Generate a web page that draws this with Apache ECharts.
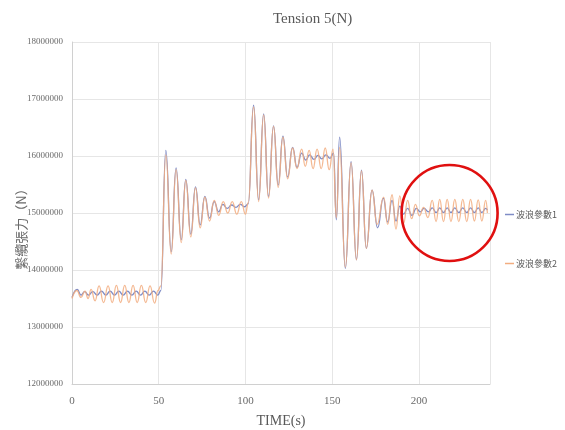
<!DOCTYPE html>
<html>
<head>
<meta charset="utf-8">
<script src="https://cdn.jsdelivr.net/npm/echarts@6/dist/echarts.min.js"></script>
<style>
  html, body { margin: 0; padding: 0; background: #ffffff; }
  #chart { width: 565px; height: 430px; }
</style>
</head>
<body>
<div id="chart"></div>
<script>
// Mooring line tension (unit: 10^6 N) versus time (s), two wave-parameter cases.
const seriesNames = ['波浪參數1', '波浪參數2'];

// Case 1: turning points of the tension record
const timeA = [
  0, 3, 5.2, 7.3, 9.5, 12, 14.5, 17, 19.5, 22, 24.5, 27, 29.5, 32, 34.5, 37, 39.5, 42, 44.5, 47, 49.5, 51.2,
  54.1, 57.2, 60, 63, 65.6, 68.5, 71.2, 73.9, 76.6, 79.3, 82, 84.5, 87, 89.5, 92, 94.5, 97, 99.5, 101.6,
  104.7, 107.6, 110.5, 113.3, 116.2, 118.9, 121.6, 124.3, 127.2, 129.7, 132.4, 134.8, 137, 139.5, 141.8, 144, 146.4, 148.8, 150.8,
  152.4, 154.3, 157.6, 160.9, 164, 166.9, 169.7, 173, 176.2, 179.5, 182, 184.5, 186.8, 189, 191.2, 193.5, 196,
  198.5, 200.8, 203, 205.5, 207.7, 210, 212, 214.2, 216.3, 218.5, 220.7, 223, 225.3, 227.6, 229.8, 232, 234.2, 236.3, 238.5, 239.5
];
const tensionA = [
  13.52, 13.66, 13.56, 13.62, 13.56, 13.62, 13.56, 13.63, 13.56, 13.63, 13.56, 13.63, 13.56, 13.63, 13.56, 13.63, 13.56, 13.63, 13.56, 13.63, 13.56, 13.64,
  16.10, 14.32, 15.79, 14.53, 15.59, 14.63, 15.46, 14.79, 15.29, 14.91, 15.20, 15.02, 15.15, 15.08, 15.14, 15.10, 15.15, 15.11, 15.16,
  16.89, 15.23, 16.74, 15.29, 16.53, 15.49, 16.35, 15.63, 16.15, 15.80, 16.05, 15.93, 16.02, 15.94, 16.01, 15.95, 16.02, 15.96, 16.05,
  14.88, 16.33, 14.03, 15.90, 14.18, 15.75, 14.38, 15.40, 14.74, 15.26, 14.84, 15.22, 14.86, 15.12, 14.98, 15.08, 14.96,
  15.08, 15.02, 15.08, 15.02, 15.09, 15.01, 15.09, 15.01, 15.09, 15.01, 15.09, 15.01, 15.09, 15.01, 15.09, 15.01, 15.09, 15.01, 15.08, 15.05
];

// Case 2: turning points of the tension record
const timeB = [
  0, 2.8, 5.2, 7.5, 9.3, 11, 13.3, 15.6, 18.2, 20.8, 23.2, 25.6, 28, 30.4, 32.8, 35.2, 37.6, 40, 42.5, 45, 47.6, 49.6, 51.2,
  54.1, 57.2, 60, 63, 65.6, 68.5, 71.2, 73.9, 76.6, 79.3, 82, 84.6, 87.2, 89.8, 92.4, 95, 97.6, 100, 101.6,
  104.7, 107.6, 110.5, 113.3, 116.2, 118.9, 121.6, 124.3, 127.2, 129.7, 132.4, 134.5, 136.7, 139, 141.3, 143.7, 146, 148.3, 150.5,
  152.4, 154.3, 157.6, 160.9, 164, 166.9, 169.7, 173, 175.9, 179.7, 182, 184.5, 186.8, 189, 191.2, 193.5, 195.8,
  198, 200.3, 202.7, 205.2, 207.7, 209.9, 212, 214.2, 216.3, 218.5, 220.7, 223, 225.3, 227.6, 229.8, 232, 234.2, 236.3, 238.5, 239.5
];
const tensionB = [
  13.50, 13.64, 13.52, 13.63, 13.50, 13.66, 13.46, 13.72, 13.43, 13.72, 13.43, 13.73, 13.43, 13.73, 13.43, 13.73, 13.43, 13.73, 13.43, 13.72, 13.42, 13.64, 13.72,
  16.02, 14.28, 15.76, 14.48, 15.57, 14.58, 15.44, 14.74, 15.28, 14.86, 15.22, 14.96, 15.20, 15.00, 15.20, 14.98, 15.20, 14.98, 15.18,
  16.86, 15.20, 16.72, 15.26, 16.52, 15.45, 16.33, 15.60, 16.14, 15.78, 16.12, 15.82, 16.10, 15.78, 16.12, 15.78, 16.14, 15.76, 16.12,
  14.92, 16.15, 14.05, 15.88, 14.18, 15.74, 14.38, 15.40, 14.80, 15.28, 14.80, 15.32, 14.72, 15.30, 14.82, 15.22, 14.90,
  15.15, 14.95, 15.10, 14.92, 15.22, 14.85, 15.24, 14.85, 15.24, 14.85, 15.24, 14.85, 15.24, 14.85, 15.24, 14.86, 15.23, 14.86, 15.22, 15.00
];

// Axis ticks
const xTicks = [0, 50, 100, 150, 200];
const yTicks = [12000000, 13000000, 14000000, 15000000, 16000000, 17000000, 18000000];

// Highlighted steady-state region (data coordinates)
const focusTime = 217.7;
const focusTension = 15.0;

const MEGA = 1e6;
const toPairs = (t, v) => t.map((x, i) => [x, v[i] * MEGA]);

const chart = echarts.init(document.getElementById('chart'), null, { renderer: 'canvas' });

const serif = '"Liberation Serif", "DejaVu Serif", serif';
const cjk = '"Noto Sans CJK TC", "Noto Sans CJK SC", sans-serif';
const blue = '#7f8cc6';
const orange = '#f2ad80';

chart.setOption({
  backgroundColor: '#ffffff',
  animation: false,
  title: {
    text: 'Tension 5(N)',
    left: 268,
    top: 7,
    textStyle: { fontFamily: serif, fontSize: 15, fontWeight: 'normal', color: '#595959' }
  },
  grid: { left: 72, right: 75, top: 42, bottom: 46, containLabel: false, outerBoundsMode: 'none' },
  legend: {
    orient: 'vertical',
    left: 505,
    top: 210,
    icon: 'rect',
    itemWidth: 9,
    itemHeight: 1.5,
    itemGap: 40,
    padding: 0,
    data: [
      { name: seriesNames[0], itemStyle: { color: blue } },
      { name: seriesNames[1], itemStyle: { color: orange } }
    ],
    textStyle: { fontFamily: cjk, fontSize: 9, color: '#595959', padding: [0, 0, 0, -3] }
  },
  xAxis: {
    type: 'value',
    min: xTicks[0],
    max: 241,
    interval: 50,
    name: 'TIME(s)',
    nameLocation: 'middle',
    nameGap: 30,
    nameMoveOverlap: false,
    nameTextStyle: { fontFamily: serif, fontSize: 14, color: '#595959' },
    axisLine: { show: true, lineStyle: { color: '#d0d0d0' } },
    axisTick: { show: false },
    axisLabel: {
      fontFamily: serif, fontSize: 11, color: '#6a6a6a', margin: 12,
      showMaxLabel: false,
      formatter: v => (xTicks.indexOf(v) >= 0 ? String(v) : '')
    },
    splitLine: { show: true, lineStyle: { color: '#e6e6e6' } }
  },
  yAxis: {
    type: 'value',
    min: yTicks[0],
    max: yTicks[yTicks.length - 1],
    interval: 1000000,
    name: '繫纜張力（N）',
    nameLocation: 'middle',
    nameGap: 44,
    nameRotate: 90,
    nameMoveOverlap: false,
    nameTextStyle: { fontFamily: cjk, fontSize: 13, color: '#6a6a6a', padding: [0, 26, 0, 0] },
    axisLine: { show: true, lineStyle: { color: '#d0d0d0' } },
    axisTick: { show: false },
    axisLabel: {
      fontFamily: serif, fontSize: 9, color: '#6a6a6a', margin: 9,
      formatter: v => String(v)
    },
    splitLine: { show: true, lineStyle: { color: '#e6e6e6' } }
  },
  series: [
    {
      name: seriesNames[0],
      type: 'line',
      data: toPairs(timeA, tensionA),
      smooth: 0.5,
      smoothMonotone: 'x',
      symbol: 'none',
      lineStyle: { color: blue, width: 1.3 },
      itemStyle: { color: blue },
      z: 3
    },
    {
      name: seriesNames[1],
      type: 'line',
      data: toPairs(timeB, tensionB),
      smooth: 0.5,
      smoothMonotone: 'x',
      symbol: 'none',
      lineStyle: { color: orange, width: 1.3, opacity: 0.85 },
      itemStyle: { color: orange },
      z: 4
    }
  ]
});

// Red ring marking the steady-state oscillation
const c = chart.convertToPixel({ gridIndex: 0 }, [focusTime, focusTension * MEGA]);
chart.setOption({
  graphic: [{
    type: 'circle',
    shape: { cx: c[0], cy: c[1], r: 48 },
    style: { fill: 'none', stroke: '#e01010', lineWidth: 2.6 },
    z: 100
  }]
});
</script>
</body>
</html>
